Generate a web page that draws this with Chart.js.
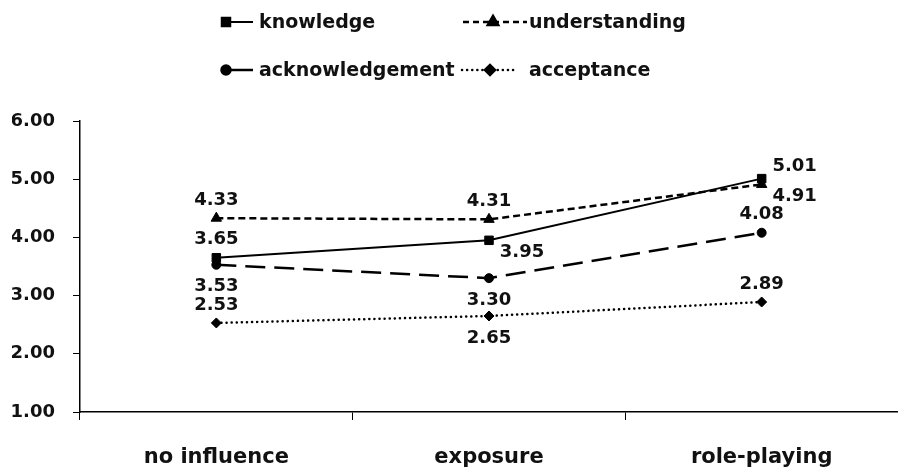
<!DOCTYPE html>
<html>
<head>
<meta charset="utf-8">
<style>
  html, body { margin: 0; padding: 0; background: #fff; }
  #c { display: block; }
</style>
</head>
<body>
<canvas id="c" width="898" height="473"></canvas>
<script src="https://cdn.jsdelivr.net/npm/chart.js"></script>
<script>
// categories and series
const categories = ['no influence', 'exposure', 'role-playing'];
const knowledge = [3.65, 3.95, 5.01];
const understanding = [4.33, 4.31, 4.91];
const acknowledgement = [3.53, 3.30, 4.08];
const acceptance = [2.53, 2.65, 2.89];
const yTicks = [1, 2, 3, 4, 5, 6];

// where each value label sits next to its point
const labelSpots = {
  knowledge: ['top', 'bottomRight', 'topRight'],
  understanding: ['top', 'top', 'bottomRight'],
  acknowledgement: ['bottom', 'bottom', 'top'],
  acceptance: ['top', 'bottom', 'top']
};

// draws the value labels
const valueLabels = {
  id: 'valueLabels',
  afterDatasetsDraw(chart) {
    const ctx = chart.ctx;
    ctx.save();
    ctx.font = 'bold 18px "DejaVu Sans"';
    ctx.fillStyle = '#111';
    ctx.textAlign = 'center';
    ctx.textBaseline = 'middle';
    chart.data.datasets.forEach((ds, i) => {
      const meta = chart.getDatasetMeta(i);
      meta.data.forEach((pt, j) => {
        const spot = labelSpots[ds.label][j];
        let dx = 0, dy = 0;
        if (spot == 'top') dy = -18;
        if (spot == 'bottom') dy = 22;
        if (spot == 'bottomRight') { dx = 33; dy = 12; }
        if (spot == 'topRight') { dx = 33; dy = -12; }
        ctx.fillText(ds.data[j].toFixed(2), pt.x + dx, pt.y + dy);
      });
    });
    ctx.restore();
  }
};

// two-row legend like the original
const legendBoxes = {
  id: 'legendBoxes',
  afterDraw(chart) {
    const ctx = chart.ctx;
    const spots = [
      { x1: 222, x2: 253, mx: 226, y: 22, tx: 259, dash: [] },
      { x1: 463, x2: 527, mx: 493, y: 22, tx: 529, dash: [6, 4] },
      { x1: 222, x2: 253, mx: 226, y: 70, tx: 259, dash: [] },
      { x1: 462, x2: 518, mx: 490, y: 70, tx: 529, dash: [0.1, 5] }
    ];
    chart.data.datasets.forEach((ds, i) => {
      const s = spots[i];
      ctx.save();
      ctx.strokeStyle = '#000';
      ctx.lineWidth = ds.borderWidth;
      ctx.setLineDash(s.dash);
      ctx.lineCap = ds.borderCapStyle || 'butt';
      ctx.beginPath();
      ctx.moveTo(s.x1, s.y);
      ctx.lineTo(s.x2, s.y);
      ctx.stroke();
      ctx.setLineDash([]);
      Chart.helpers.drawPoint(ctx, {
        pointStyle: ds.pointStyle, radius: ds.pointRadius, rotation: 0, borderWidth: 1
      }, s.mx, s.y);
      ctx.fillStyle = '#111';
      ctx.font = 'bold 19px "DejaVu Sans"';
      ctx.textBaseline = 'middle';
      ctx.fillText(ds.label, s.tx, s.y + 1);
      ctx.restore();
    });
  }
};

function series(label, data, dash, style, radius, cap, width) {
  return {
    label: label,
    data: data,
    borderColor: '#000',
    backgroundColor: '#000',
    pointBackgroundColor: '#000',
    pointBorderColor: '#000',
    pointBorderWidth: 1,
    borderWidth: width || 2.5,
    borderDash: dash,
    borderCapStyle: cap || 'butt',
    pointStyle: style,
    pointRadius: radius,
    tension: 0
  };
}

const data = {
  labels: categories,
  datasets: [
    series('knowledge', knowledge, [], 'rect', 6, 'butt', 2),
    series('understanding', understanding, [7, 4], 'triangle', 6),
    series('acknowledgement', acknowledgement, [20, 9], 'circle', 4.5),
    series('acceptance', acceptance, [0.1, 5], 'rectRot', 5, 'round')
  ]
};

new Chart(document.getElementById('c'), {
  type: 'line',
  data: data,
  options: {
    responsive: false,
    animation: false,
    layout: { autoPadding: false, padding: { top: 121, left: 12, right: 0, bottom: 0 } },
    plugins: { legend: { display: false }, tooltip: { enabled: false } },
    scales: {
      x: {
        offset: true,
        afterFit(scale) {
          scale.height = 61;
          scale.paddingLeft = 0;
          scale.paddingRight = 0;
        },
        grid: { offset: true, drawOnChartArea: false, drawTicks: true, tickLength: 8, color: '#000' },
        border: { display: true, color: '#000', width: 1.5 },
        ticks: {
          color: '#111',
          font: { family: 'DejaVu Sans', size: 21, weight: 'bold', lineHeight: 1.2 },
          padding: 0,
          // blank first line pushes the names down like the original
          callback: (v, i) => ['', categories[i]]
        }
      },
      y: {
        min: 1,
        max: 6,
        afterBuildTicks(axis) { axis.ticks = yTicks.map(v => ({ value: v })); },
        afterFit(scale) { scale.width = 68; },
        grid: { drawOnChartArea: false, drawTicks: true, tickLength: 7, color: '#000' },
        border: { display: true, color: '#000', width: 1.5 },
        ticks: {
          color: '#111',
          font: { family: 'DejaVu Sans', size: 18, weight: 'bold' },
          padding: 18,
          callback: v => Number(v).toFixed(2)
        }
      }
    }
  },
  plugins: [valueLabels, legendBoxes]
});
</script>
</body>
</html>
